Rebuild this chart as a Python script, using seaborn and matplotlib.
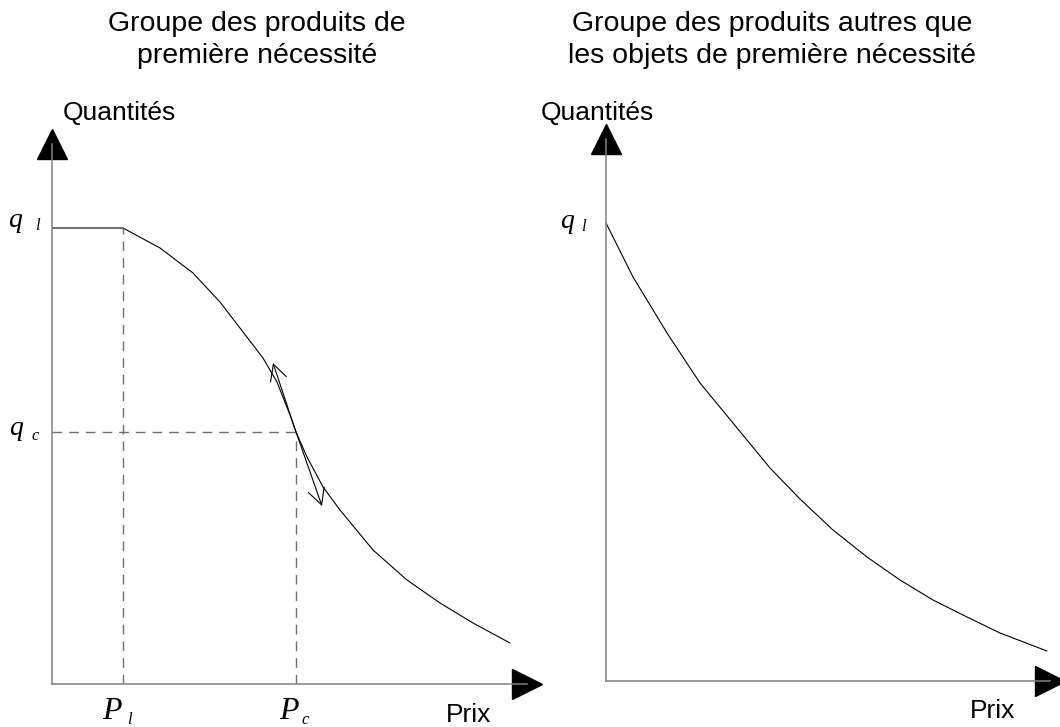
import matplotlib
matplotlib.use("Agg")
import matplotlib.pyplot as plt
import seaborn as sns

# --- data (price / quantity units, origin at each axis corner)
left_price = [0.00, 0.71, 1.08, 1.41, 1.68, 1.91, 2.11, 2.25, 2.38, 2.44,
              2.55, 2.71, 2.88, 3.21, 3.55, 3.88, 4.21, 4.58]
left_qty = [4.56, 4.56, 4.36, 4.11, 3.82, 3.52, 3.26, 3.02, 2.69, 2.52,
            2.27, 1.97, 1.74, 1.34, 1.04, 0.81, 0.61, 0.41]

right_price = [0.00, 0.27, 0.61, 0.94, 1.27, 1.64, 1.94, 2.27, 2.61, 2.94,
               3.27, 3.61, 3.94, 4.41]
right_qty = [4.58, 4.04, 3.48, 2.98, 2.58, 2.13, 1.82, 1.51, 1.24, 1.01,
             0.81, 0.64, 0.48, 0.30]

P_L, P_C = 0.71, 2.44
Q_L, Q_C = 4.56, 2.52
tangent_up = (2.21, 3.21)
tangent_down = (2.70, 1.78)

titles = ["Groupe des produits de\npremière nécessité",
          "Groupe des produits autres que\nles objets de première nécessité"]

W, H = 1060, 727
sns.set_theme(style="white")
plt.rcParams["font.family"] = ["Liberation Sans", "DejaVu Sans"]
plt.rcParams["text.color"] = "black"

fig = plt.figure(figsize=(W / 100, H / 100), dpi=100)
fig.patch.set_facecolor("white")


def make_axes(x0, x1, ytop, ybot):
    ax = fig.add_axes([x0 / W, (H - ybot) / H, (x1 - x0) / W, (ybot - ytop) / H])
    ax.set_xlim(0, (x1 - x0) / 100)
    ax.set_ylim(0, (ybot - ytop) / 100)
    ax.set_facecolor("none")
    for side in ["top", "right"]:
        ax.spines[side].set_visible(False)
    for side in ["left", "bottom"]:
        ax.spines[side].set_color("#808080")
        ax.spines[side].set_linewidth(1.1)
    ax.set_xticks([])
    ax.set_yticks([])
    ax.plot(1, 0, ">", color="black", ms=22, transform=ax.transAxes, clip_on=False)
    ax.plot(0, 1, "^", color="black", ms=22, transform=ax.transAxes, clip_on=False)
    return ax


def fig_text(x, y, s, **kw):
    fig.text(x / W, 1 - y / H, s, **kw)


serif = dict(family="Liberation Serif", style="italic", color="black")

# left panel
ax1 = make_axes(52, 527, 143.5, 684)
sns.lineplot(x=left_price, y=left_qty, sort=False, estimator=None,
             color="black", lw=0.8, ax=ax1)
dash = dict(color="#707070", lw=1, ls=(0, (7, 5)))
ax1.plot([P_L, P_L], [0, Q_L], **dash)
ax1.plot([0, P_C], [Q_C, Q_C], **dash)
ax1.plot([P_C, P_C], [0, Q_C], **dash)
for tip in [tangent_up, tangent_down]:
    ax1.annotate("", xy=tip, xytext=(P_C, Q_C),
                 arrowprops=dict(arrowstyle="->,head_length=1.15,head_width=0.6",
                                 mutation_scale=10, lw=0.8, color="black",
                                 shrinkA=0, shrinkB=0))

# right panel
ax2 = make_axes(606, 1050, 139, 681)
sns.lineplot(x=right_price, y=right_qty, sort=False, estimator=None,
             color="black", lw=0.8, ax=ax2)

# titles and axis names
fig_text(257, 40, titles[0], ha="center", va="center", fontsize=20.5,
         linespacing=1.3)
fig_text(772, 40, titles[1], ha="center", va="center", fontsize=20.5,
         linespacing=1.3)
fig_text(63, 120, "Quantités", fontsize=19, va="baseline")
fig_text(541, 120, "Quantités", fontsize=19, va="baseline")
fig_text(446, 722, "Prix", fontsize=19, va="baseline")
fig_text(970, 718, "Prix", fontsize=19, va="baseline")

# italic point labels
fig_text(8, 227, "q", fontsize=20, va="baseline", **serif)
fig_text(35, 230, "l", fontsize=12, va="baseline", **serif)
fig_text(9, 435, "q", fontsize=20, va="baseline", **serif)
fig_text(31, 440, "c", fontsize=12, va="baseline", **serif)
fig_text(560, 228, "q", fontsize=20, va="baseline", **serif)
fig_text(581, 231, "l", fontsize=12, va="baseline", **serif)
fig_text(102, 719, "P", fontsize=23, va="baseline", **serif)
fig_text(127, 724, "l", fontsize=12, va="baseline", **serif)
fig_text(279, 719, "P", fontsize=23, va="baseline", **serif)
fig_text(301, 724, "c", fontsize=12, va="baseline", **serif)

fig.savefig("out.png", dpi=100, facecolor="white")
